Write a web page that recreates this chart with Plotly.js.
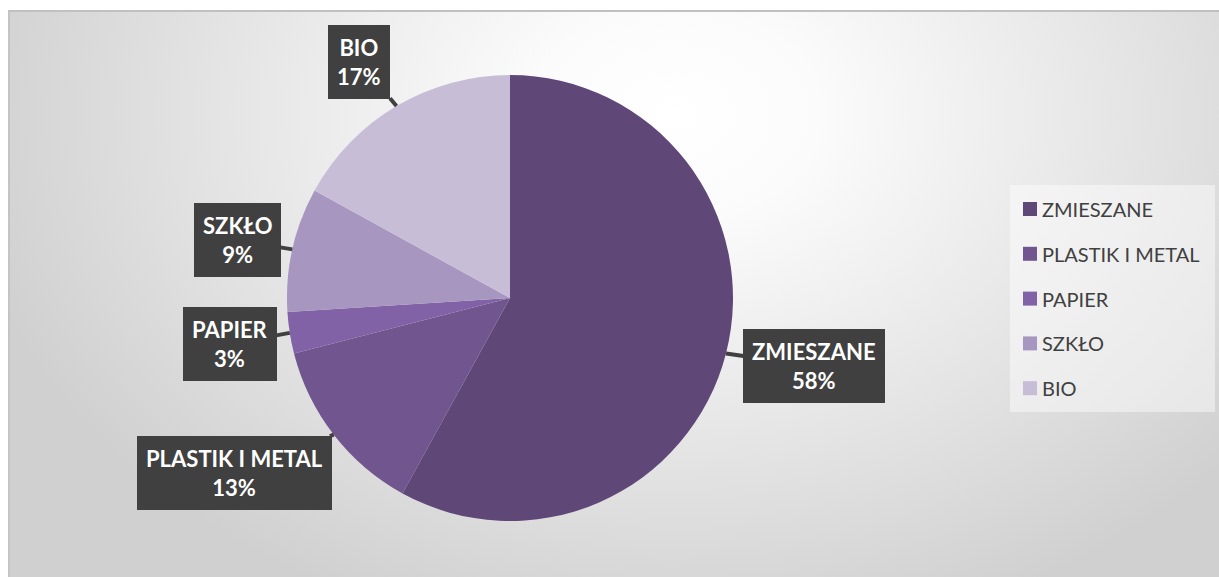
<!DOCTYPE html>
<html>
<head>
<meta charset="utf-8">
<script src="https://cdn.plot.ly/plotly-3.0.1.min.js"></script>
<style>
  html, body { margin:0; padding:0; background:#ffffff; }
  #bg { position:absolute; left:8px; top:10px; width:1211px; height:567px;
        border-top:2px solid #c0c0c0; border-left:2px solid #c4c4c4; box-sizing:border-box;
        background: radial-gradient(ellipse 60% 95% at 55% 18%, #ffffff 0%, #fbfbfb 20%, #e6e6e6 60%, #d0d0d0 100%); }
  #chart { position:absolute; left:0; top:0; width:1219px; height:577px; }
</style>
</head>
<body>
<div id="bg"></div>
<div id="chart"></div>
<script>
const categories = ["ZMIESZANE", "PLASTIK I METAL", "PAPIER", "SZKŁO", "BIO"];
const values = [58, 13, 3, 9, 17];
const colors = ["#5f4778", "#71558f", "#8262a6", "#a797c0", "#c8bdd7"];

const W = 1219, H = 577;
const cx = 510, cy = 298, R = 223;
const px = x => x / W;
const py = y => 1 - y / H;

// callout box offsets (pixels, box centre relative to slice tip)
const boxOffsets = [[88, 13], [-99, 38], [-60, 11], [-55, -9], [-37, -44]];

const total = values.reduce((a, b) => a + b, 0);
let cum = 0;
const annotations = [];
categories.forEach((c, i) => {
  const mid = (cum + values[i] / 2) / total * 2 * Math.PI;
  cum += values[i];
  const tx = cx + R * Math.sin(mid);
  const ty = cy - R * Math.cos(mid);
  const pct = Math.round(values[i] / total * 100);
  annotations.push({
    xref: 'paper', yref: 'paper', x: px(tx), y: py(ty),
    ax: boxOffsets[i][0], ay: boxOffsets[i][1],
    showarrow: true, arrowhead: 0, arrowwidth: 4, arrowcolor: '#404040',
    text: '<b>' + c + '</b><br><b>' + pct + '%</b>',
    font: { family: 'Lato, sans-serif', size: 22, color: '#ffffff' },
    bgcolor: '#404040', bordercolor: '#404040', borderwidth: 1, borderpad: 8,
    align: 'center'
  });
});

// legend (manual, to match Excel spacing)
const shapes = [{
  type: 'rect', xref: 'paper', yref: 'paper',
  x0: px(1010), x1: px(1215), y0: py(412), y1: py(185),
  fillcolor: 'rgba(255,255,255,0.45)', line: { width: 0 }, layer: 'below'
}];
categories.forEach((c, i) => {
  const yc = 209 + i * 44.8;
  shapes.push({
    type: 'rect', xref: 'paper', yref: 'paper',
    x0: px(1023), x1: px(1037), y0: py(yc + 7), y1: py(yc - 7),
    fillcolor: colors[i], line: { width: 0 }
  });
  annotations.push({
    xref: 'paper', yref: 'paper', x: px(1040), y: py(yc),
    xanchor: 'left', yanchor: 'middle', showarrow: false,
    text: c, font: { family: 'Lato, sans-serif', size: 20, color: '#404040' }
  });
});

const data = [{
  type: 'pie', labels: categories, values: values, sort: false,
  direction: 'clockwise', rotation: 0, textinfo: 'none', hoverinfo: 'label+percent',
  marker: { colors: colors, line: { width: 0 } },
  domain: { x: [px(cx - R), px(cx + R)], y: [py(cy + R), py(cy - R)] },
  showlegend: false
}];

const layout = {
  width: W, height: H,
  margin: { l: 0, r: 0, t: 0, b: 0 },
  paper_bgcolor: 'rgba(0,0,0,0)', plot_bgcolor: 'rgba(0,0,0,0)',
  showlegend: false,
  annotations: annotations, shapes: shapes
};

Plotly.newPlot('chart', data, layout, { displayModeBar: false, staticPlot: true });
</script>
</body>
</html>
